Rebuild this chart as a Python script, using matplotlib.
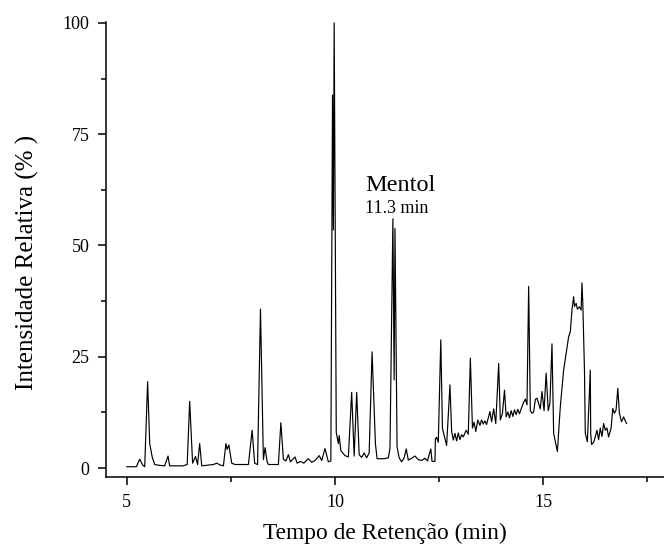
import matplotlib
matplotlib.use("Agg")
import matplotlib.pyplot as plt
from matplotlib.ticker import MultipleLocator

plt.rcParams['font.family'] = ['Liberation Serif', 'DejaVu Serif']

# chromatogram trace (time in min, relative intensity in %)
tempo = [
    5.00, 5.23, 5.31, 5.38, 5.43, 5.50, 5.55, 5.61, 5.67, 5.79, 5.91, 5.99, 6.03,
    6.35, 6.45, 6.51, 6.58, 6.65, 6.70, 6.75, 6.80, 7.08, 7.16, 7.24, 7.32, 7.38,
    7.41, 7.45, 7.52, 7.60, 7.92, 8.01, 8.07, 8.14, 8.21, 8.28, 8.32, 8.37, 8.40,
    8.64, 8.70, 8.76, 8.82, 8.88, 8.93, 9.04, 9.09, 9.17, 9.25, 9.36, 9.44, 9.52,
    9.62, 9.68, 9.76, 9.84, 9.90, 9.94, 9.96, 9.98, 10.03, 10.08, 10.10, 10.14,
    10.24, 10.32, 10.40, 10.46, 10.52, 10.58, 10.64, 10.70, 10.76, 10.82, 10.89,
    10.97, 11.01, 11.17, 11.28, 11.32, 11.39, 11.42, 11.44, 11.49, 11.54, 11.60,
    11.66, 11.71, 11.76, 11.84, 11.92, 12.00, 12.08, 12.16, 12.22, 12.30, 12.33,
    12.40, 12.41, 12.44, 12.48, 12.54, 12.58, 12.62, 12.68, 12.76, 12.80, 12.84,
    12.88, 12.92, 12.96, 13.00, 13.04, 13.08, 13.15, 13.20, 13.25, 13.30, 13.34,
    13.38, 13.43, 13.48, 13.52, 13.56, 13.60, 13.64, 13.68, 13.72, 13.76, 13.81,
    13.86, 13.93, 13.97, 14.02, 14.07, 14.11, 14.15, 14.19, 14.23, 14.27, 14.31,
    14.35, 14.39, 14.43, 14.47, 14.53, 14.57, 14.61, 14.65, 14.69, 14.73, 14.77,
    14.81, 14.85, 14.89, 14.93, 14.97, 15.02, 15.07, 15.12, 15.16, 15.21, 15.25,
    15.30, 15.34, 15.41, 15.49, 15.57, 15.61, 15.65, 15.69, 15.73, 15.75, 15.79,
    15.82, 15.87, 15.91, 15.93, 15.95, 15.99, 16.01, 16.06, 16.13, 16.14, 16.16,
    16.21, 16.25, 16.29, 16.33, 16.37, 16.41, 16.45, 16.49, 16.53, 16.57, 16.63,
    16.67, 16.71, 16.75, 16.79, 16.83, 16.88, 16.93, 17.00,
]
intensidade = [
    0.3, 0.3, 2.0, 0.7, 0.3, 19.4, 5.5, 2.5, 0.8, 0.6, 0.5, 2.7, 0.5,
    0.5, 0.8, 15.0, 1.1, 2.6, 0.8, 5.5, 0.5, 0.8, 1.1, 0.7, 0.5, 5.5,
    4.2, 5.2, 1.1, 0.8, 0.8, 8.5, 1.1, 0.8, 35.7, 1.9, 4.6, 1.4, 0.8,
    0.8, 10.2, 2.0, 1.6, 3.0, 1.4, 2.5, 1.1, 1.5, 1.1, 2.1, 1.3, 1.7,
    2.8, 1.7, 4.4, 1.4, 1.6, 83.8, 53.5, 100.0, 8.0, 5.5, 7.3, 3.9,
    2.8, 2.5, 17.0, 2.7, 17.0, 3.0, 2.4, 3.4, 2.3, 3.4, 26.1,
    5.5, 2.1, 2.1, 2.3, 4.4, 56.0, 19.8, 53.8, 4.8, 2.3, 1.4,
    2.3, 4.3, 1.8, 2.2, 2.7, 1.9, 1.7, 2.2, 1.6, 4.3, 1.5,
    1.5, 6.5, 6.9, 5.8, 28.8, 8.9, 7.4, 5.1, 18.7, 8.3, 6.3,
    7.8, 6.1, 7.9, 6.4, 7.5, 7.0, 8.5, 7.6, 24.7, 9.0, 10.3,
    8.2, 10.8, 9.6, 10.8, 9.9, 10.6, 9.8, 11.3, 12.7, 10.4, 13.3,
    10.0, 23.5, 10.8, 12.3, 17.5, 11.5, 12.6, 11.3, 12.9, 11.6, 13.1,
    12.0, 13.2, 12.2, 13.3, 14.8, 15.5, 14.2, 40.8, 12.9, 12.3, 12.6,
    15.4, 15.7, 14.5, 13.3, 17.2, 12.9, 21.3, 12.9, 14.5, 27.9, 7.8,
    5.5, 3.7, 13.8, 22.0, 26.9, 29.5, 30.6, 35.5, 38.5, 36.3, 37.0,
    35.7, 36.2, 35.5, 41.6, 37.0, 22.0, 7.8, 5.9, 22.0, 7.8, 5.3,
    5.8, 7.0, 8.5, 6.4, 9.0, 7.1, 10.0, 8.5, 9.0, 7.0, 9.0,
    13.4, 12.3, 13.1, 17.9, 12.3, 10.4, 11.5, 10.0,
]

pico_nome = "Mentol"
pico_tempo = "11.3 min"

fig = plt.figure(figsize=(6.64, 5.58), dpi=100)
ax = fig.add_axes([0.1596, 0.1452, 0.8404, 0.8154])

ax.plot(tempo, intensidade, color='black', linewidth=0.85)

ax.set_xlim(4.5, 17.9)
ax.set_ylim(-2.0, 100.2)

ax.xaxis.set_major_locator(MultipleLocator(5))
ax.xaxis.set_minor_locator(MultipleLocator(2.5))
ax.yaxis.set_major_locator(MultipleLocator(25))
ax.yaxis.set_minor_locator(MultipleLocator(12.5))

ax.spines['top'].set_visible(False)
ax.spines['right'].set_visible(False)
ax.spines['left'].set_linewidth(1.1)
ax.spines['bottom'].set_linewidth(1.1)

ax.tick_params(which='major', direction='out', length=6, width=1.1, labelsize=13, pad=6)
ax.tick_params(which='minor', direction='out', length=3.5, width=1.1)

ax.set_xlabel('Tempo de Retenção (min)', fontsize=16.8, labelpad=9)
ax.set_ylabel('Intensidade Relativa (% )', fontsize=18)
ax.yaxis.set_label_coords(-0.12, 0.4725)

ax.text(11.56, 63.4, pico_nome, fontsize=17.5, ha='center', va='center')
ax.text(11.49, 58.2, pico_tempo, fontsize=13, ha='center', va='center')

fig.savefig('out.png', dpi=100)
